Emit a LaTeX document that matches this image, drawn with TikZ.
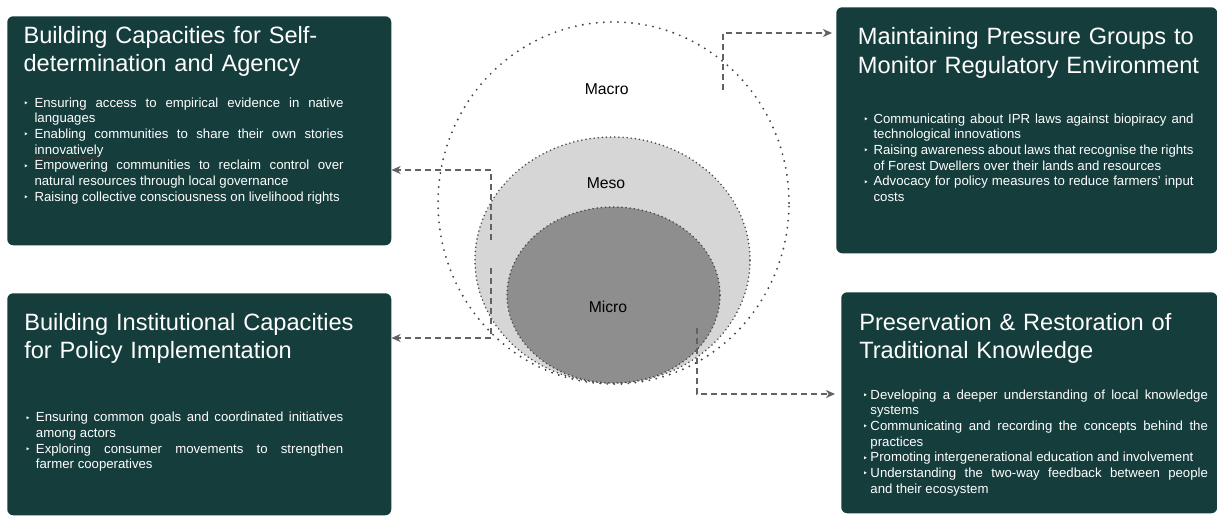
\documentclass[tikz,border=0pt]{standalone}
\usepackage{fontspec}
\setmainfont{Liberation Sans}
\newfontfamily\bulletfont{DejaVu Sans}
\usetikzlibrary{arrows.meta,shapes.geometric,decorations.pathmorphing}

% one drawing unit (px) = 0.75pt
\newdimen\px \px=0.75pt

\definecolor{panelgreen}{RGB}{20,61,59}
\definecolor{mesofill}{RGB}{214,214,214}
\definecolor{microfill}{RGB}{142,142,142}
\definecolor{dotgray}{RGB}{70,70,70}
\definecolor{linkgray}{RGB}{98,98,98}

% bullet item with hanging indent; #1 = width of the bullet column
\newcommand{\bitem}[2]{\hangindent=#1\hangafter=1\noindent
  \makebox[#1][l]{\raisebox{0.5pt}{\bulletfont\fontsize{6.5}{6.5}\selectfont ‣}}#2\par}

\tikzset{
  panel/.style={rectangle, rounded corners=4.5pt, fill=panelgreen, draw=none,
    inner sep=0pt, anchor=north west},
  heading/.style={anchor=base west, inner sep=0pt, text=white, text width=#1,
    align=left, font=\fontsize{17.7}{21.4}\selectfont},
  bodytext/.style={anchor=base west, inner sep=0pt, text=white, text width=#1,
    align=justify, font=\fontsize{9.9}{11.75}\selectfont},
  level/.style={ellipse, inner sep=0pt},
  levellabel/.style={anchor=base, inner sep=0pt, font=\fontsize{11.8}{14}\selectfont},
  link/.style={draw=linkgray, line width=1.6pt, dash pattern=on 4.5pt off 3pt,
    -{Stealth[length=6.75pt,width=6pt,inset=2pt]}},
}

\begin{document}
\begin{tikzpicture}[x=0.75pt, y=-0.75pt]
\useasboundingbox (0,0) rectangle (1217,517);

% ---- nested levels ----
\node[level, minimum width=351*\px, minimum height=362*\px,
  draw=dotgray, line width=1.6pt, line cap=round, dash pattern=on 0pt off 5.3pt]
  (macro) at (613.5,203) {};
\node[level, minimum width=275*\px, minimum height=246*\px, fill=mesofill,
  draw=dotgray, line width=1.3pt, line cap=round, dash pattern=on 0pt off 3.1pt]
  (meso) at (612.5,260) {};
\node[level, minimum width=213*\px, minimum height=176*\px, fill=microfill,
  draw=dotgray, line width=1.3pt, line cap=round, dash pattern=on 0pt off 3.1pt]
  (micro) at (613.5,295) {};

\node[levellabel] (lmacro) at (606.7,94.3) {Macro};
\node[levellabel] (lmeso)  at (606,188.3) {Meso};
\node[levellabel] (lmicro) at (608,312.7) {Micro};

% ---- panels ----
\node[panel, minimum width=384*\px, minimum height=229*\px] (box1) at (7,16) {};
\node[panel, minimum width=381*\px, minimum height=246*\px] (box2) at (836,7) {};
\node[panel, minimum width=384*\px, minimum height=222*\px] (box3) at (7,293) {};
\node[panel, minimum width=376*\px, minimum height=221*\px] (box4) at (841,292) {};

% ---- panel headings ----
\node[heading=360*\px] (h1) at (23.3,43.3)
  {Building Capacities for Self-\\determination and Agency};
\node[heading=360*\px] (h2) at (857.7,45)
  {Maintaining Pressure Groups to\\Monitor Regulatory Environment};
\node[heading=360*\px] (h3) at (24,330)
  {Building Institutional Capacities\\for Policy Implementation};
\node[heading=350*\px] (h4) at (859,330)
  {Preservation \& Restoration of\\Traditional Knowledge};

% ---- panel bullet lists ----
\node[bodytext=320*\px] (b1) at (23.3,107.3) {%
  \bitem{11\px}{Ensuring access to empirical evidence in native\linebreak languages}%
  \bitem{11\px}{Enabling communities to share their own stories\linebreak innovatively}%
  \bitem{11\px}{Empowering communities to reclaim control over\linebreak natural resources through local governance}%
  \bitem{11\px}{Raising collective consciousness on livelihood rights}};

\node[bodytext=330*\px] (b2) at (863.3,123) {%
  \bitem{10\px}{Communicating about IPR laws against biopiracy and\linebreak technological innovations}%
  \bitem{10\px}{Raising awareness about laws that recognise the rights\linebreak of Forest Dwellers over their lands and resources}%
  \bitem{10\px}{Advocacy for policy measures to reduce farmers' input\linebreak costs}};

\node[bodytext=318*\px] (b3) at (25,421.7) {%
  \bitem{10.7\px}{Ensuring common goals and coordinated initiatives\linebreak among actors}%
  \bitem{10.7\px}{Exploring consumer movements to strengthen\linebreak farmer cooperatives}};

\node[bodytext=345*\px] (b4) at (862.7,399.3) {%
  \bitem{7.5\px}{Developing a deeper understanding of local knowledge\linebreak systems}%
  \bitem{7.5\px}{Communicating and recording the concepts behind the\linebreak practices}%
  \bitem{7.5\px}{Promoting intergenerational education and involvement}%
  \bitem{7.5\px}{Understanding the two-way feedback between people\linebreak and their ecosystem}};

% spell-check squiggle under "innovatively"
\coordinate (sq1) at (34.3,157.5);
\coordinate (sq2) at (102.7,157.5);
\draw[red!80!black, line width=0.4pt, decorate,
  decoration={snake, segment length=2.2pt, amplitude=0.45pt}] (sq1) -- (sq2);

% ---- connectors ----
\coordinate (s1) at (491,240);  \coordinate (t1) at (491,170);
\coordinate (s2) at (491,268);  \coordinate (t2) at (491,338);
\coordinate (s3) at (723,90);   \coordinate (t3) at (723,33);
\coordinate (s4) at (697,328);  \coordinate (t4) at (697,394);

\draw[link] (s1) -- (t1) -- (t1 -| box1.east);
\draw[link] (s2) -- (t2) -- (t2 -| box3.east);
\draw[link, shorten >=3pt] (s3) -- (t3) -- (t3 -| box2.west);
\draw[link, shorten >=4.5pt] (s4) -- (t4) -- (t4 -| box4.west);
\end{tikzpicture}
\end{document}
